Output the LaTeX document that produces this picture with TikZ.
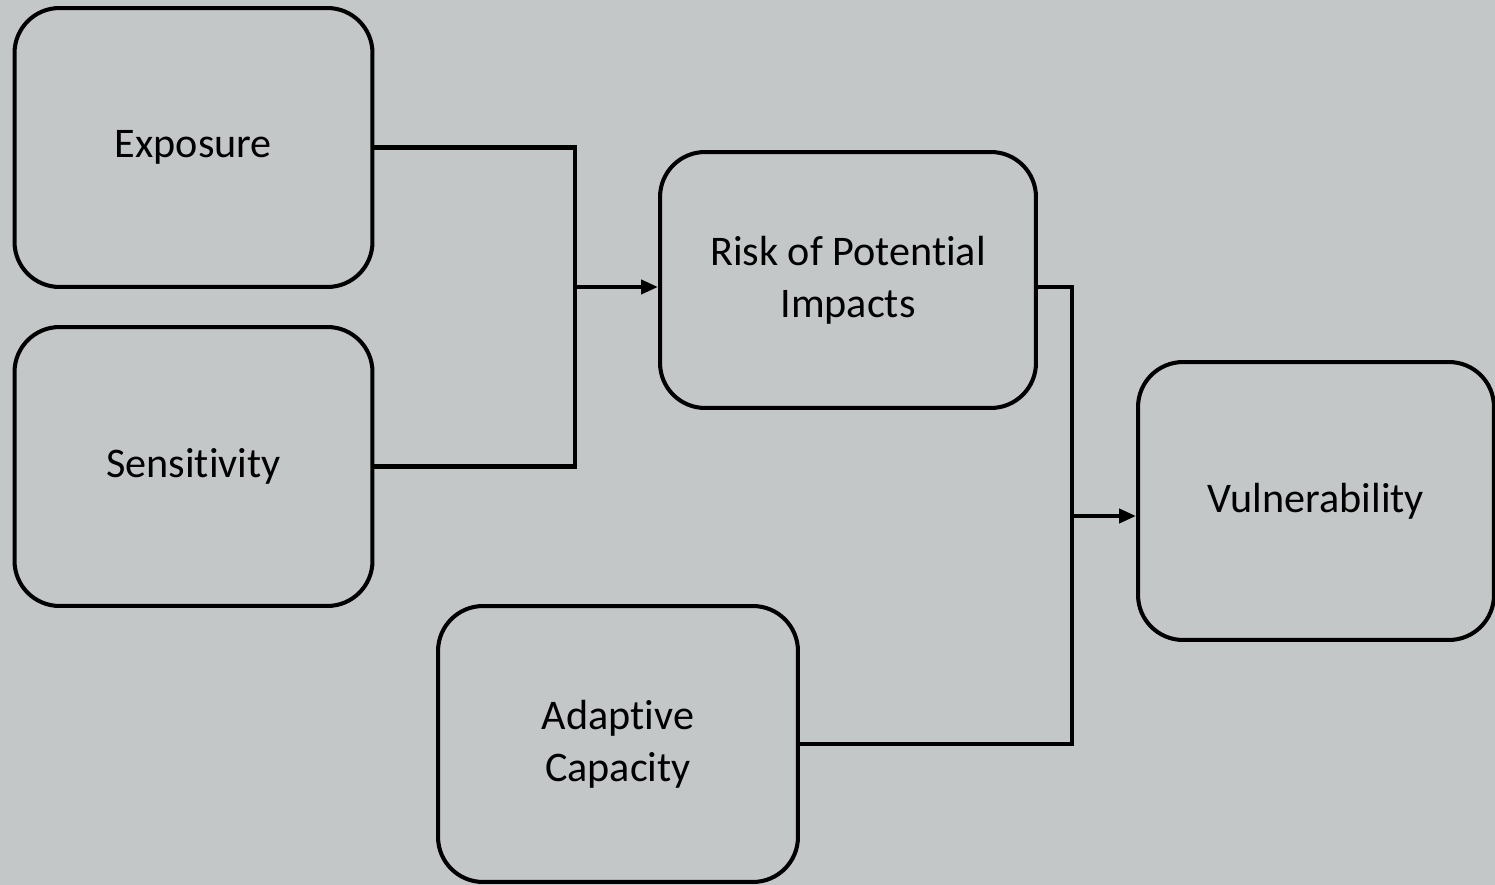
\documentclass[tikz,border=0pt]{standalone}
\usepackage{fontspec}
\setmainfont[RawFeature=-liga]{Carlito}
\usetikzlibrary{arrows.meta}
\definecolor{slidegray}{RGB}{196,199,200}
\begin{document}
\begin{tikzpicture}[x=0.02cm, y=-0.02cm, >={Triangle[length=0.34cm,width=0.28cm]},
		block/.style={draw=black, line width=2.3pt, rounded corners=0.9cm, align=center,
			font=\fontsize{24}{29.5}\selectfont},
		link/.style={draw=black, line width=2.3pt}]
			% nền xám của trang chiếu
			\fill[slidegray] (0,0) rectangle (1495,885);
			\useasboundingbox (0,0) rectangle (1495,885);
			\node[block, minimum width=7.16cm, minimum height=5.58cm] (exp) at (193.5,147.5) {Exposure};
			\node[block, minimum width=7.16cm, minimum height=5.58cm] (sen) at (193.5,466.5) {Sensitivity};
			\node[block, minimum width=7.52cm, minimum height=5.12cm] (risk) at (848,280) {Risk of Potential\\Impacts};
			\node[block, minimum width=7.2cm, minimum height=5.52cm] (ada) at (618,744) {Adaptive\\Capacity};
			\node[block, minimum width=7.12cm, minimum height=5.56cm] (vul) at (1316,501) {Vulnerability};
			\coordinate (j1) at (575,287);
			\coordinate (j2) at (1072,516);
			\draw[link] (exp.east) -| (j1) |- (sen.east);
			\draw[link, ->] (j1) -- (j1 -| risk.west);
			\draw[link] (risk.east |- j1) -| (j2) |- (ada.east);
			\draw[link, ->] (j2) -- (j2 -| vul.west);
		\end{tikzpicture}
\end{document}
